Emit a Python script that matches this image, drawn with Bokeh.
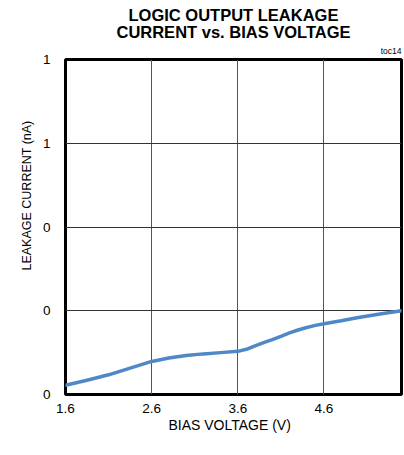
from bokeh.plotting import figure
from bokeh.models import Range1d, FixedTicker, Title
from bokeh.embed import file_html
from bokeh.resources import INLINE

# data
bias_voltage = [1.6, 1.85, 2.1, 2.35, 2.6, 2.8, 3.0, 3.2, 3.4, 3.6, 3.7, 3.8, 3.9,
                4.0, 4.1, 4.2, 4.3, 4.4, 4.5, 4.6, 4.8, 5.0, 5.25, 5.5]
leakage_current = [0.022, 0.034, 0.047, 0.063, 0.079, 0.087, 0.093, 0.097, 0.100, 0.103,
                   0.108, 0.116, 0.124, 0.131, 0.139, 0.147, 0.154, 0.160, 0.165, 0.169,
                   0.176, 0.184, 0.192, 0.2]
x_ticks = [1.6, 2.6, 3.6, 4.6]
y_ticks = [0.0, 0.2, 0.4, 0.6, 0.8]
y_tick_labels = ["0", "0", "0", "1", "1"]

FONT = "Liberation Sans"

p = figure(width=403, height=450, output_backend="svg", toolbar_location=None,
           x_range=Range1d(1.6, 5.5), y_range=Range1d(0, 0.8), title=None,
           min_border_left=65, min_border_right=2, min_border_top=59, min_border_bottom=56)

p.line(bias_voltage, leakage_current, line_color="#4f88c6", line_width=3.5,
       line_join="round", line_cap="round")

p.outline_line_color = "black"
p.outline_line_width = 3
p.background_fill_color = "white"
p.border_fill_color = "white"

for ax in (p.xaxis, p.yaxis):
    ax.axis_line_color = None
    ax.major_tick_line_color = None
    ax.minor_tick_line_color = None
    ax.major_tick_out = 0
    ax.major_tick_in = 0
    ax.major_label_text_font = FONT
    ax.major_label_text_color = "black"
    ax.major_label_text_font_size = "13.5px"

p.xaxis.ticker = FixedTicker(ticks=x_ticks)
p.xaxis.major_label_overrides = {t: f"{t:.1f}" for t in x_ticks}
p.xaxis.major_label_standoff = 9
p.xaxis.axis_label = "BIAS VOLTAGE (V)\u00a0\u00a0"
p.xaxis.axis_label_text_font = FONT
p.xaxis.axis_label_text_font_style = "normal"
p.xaxis.axis_label_text_font_size = "14px"
p.xaxis.axis_label_text_color = "black"
p.xaxis.axis_label_standoff = 1

p.yaxis.ticker = FixedTicker(ticks=y_ticks)
p.yaxis.major_label_overrides = {t: l for t, l in zip(y_ticks, y_tick_labels)}
p.yaxis.major_label_standoff = 15

p.xgrid.ticker = FixedTicker(ticks=x_ticks)
p.ygrid.ticker = FixedTicker(ticks=y_ticks)
p.grid.grid_line_color = "#555555"
p.grid.grid_line_width = 1
p.ygrid.grid_line_color = "#333333"

ylab = Title(text="LEAKAGE CURRENT (nA)", align="right", offset=61,
             text_font=FONT, text_font_style="normal", text_font_size="12.5px",
             text_color="black", standoff=12)
p.add_layout(ylab, "left")

toc = Title(text="toc14", align="right", text_font=FONT, text_font_style="normal",
            text_font_size="8.5px", text_color="black", standoff=8)
p.add_layout(toc, "above")
line2 = Title(text="CURRENT vs. BIAS VOLTAGE", align="center", vertical_align="top",
              text_font=FONT, text_font_style="bold", text_font_size="16.5px",
              text_color="black", text_line_height=1.0, standoff=-7)
p.add_layout(line2, "above")
line1 = Title(text="LOGIC OUTPUT LEAKAGE", align="center", vertical_align="middle",
              text_font=FONT, text_font_style="bold", text_font_size="16.5px",
              text_color="black", text_line_height=1.0, standoff=3)
p.add_layout(line1, "above")

open("out.html", "w").write(file_html(p, INLINE))
